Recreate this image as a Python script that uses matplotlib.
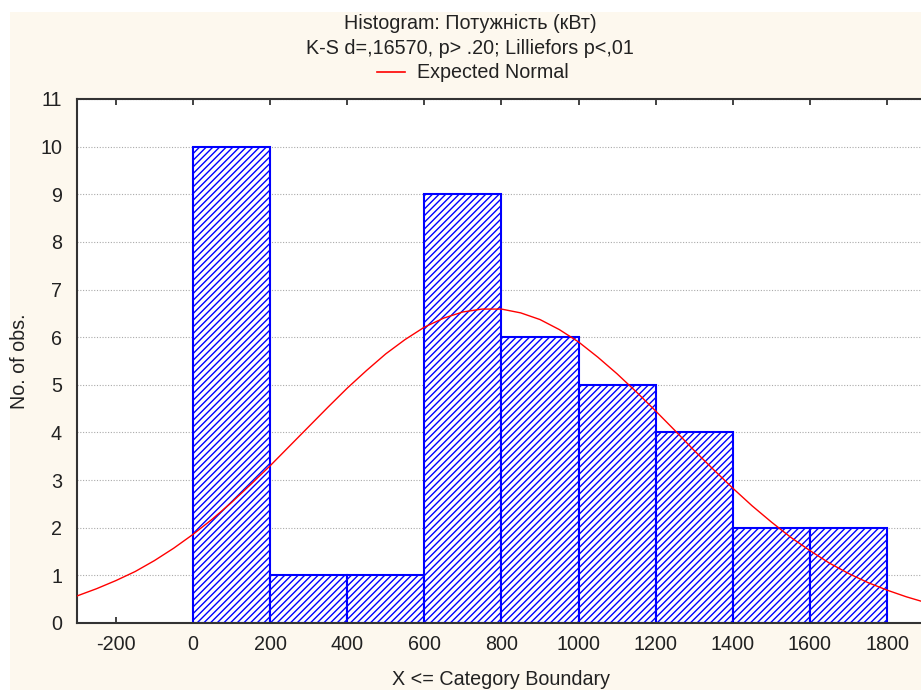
import numpy as np
import matplotlib.pyplot as plt
from matplotlib.patches import Rectangle
from matplotlib.lines import Line2D

plt.rcParams['font.family'] = ['Liberation Sans', 'DejaVu Sans']
plt.rcParams['hatch.linewidth'] = 1.0
plt.rcParams['axes.unicode_minus'] = False

# histogram data (category boundaries and counts)
bin_left = [0, 200, 400, 600, 800, 1000, 1200, 1400, 1600]
bin_width = 200
counts = [10, 1, 1, 9, 6, 5, 4, 2, 2]

# expected normal curve
curve_x = [-300, -250, -200, -150, -100, -50, 0, 50, 100, 150, 200, 250, 300,
           350, 400, 450, 500, 550, 600, 650, 700, 750, 800, 850, 900, 950,
           1000, 1050, 1100, 1150, 1200, 1250, 1300, 1350, 1400, 1450, 1500,
           1550, 1600, 1650, 1700, 1750, 1800, 1850, 1900, 1950]
curve_y = [0.57, 0.72, 0.89, 1.08, 1.31, 1.57, 1.86, 2.18, 2.53, 2.91, 3.30,
           3.71, 4.12, 4.53, 4.93, 5.30, 5.65, 5.95, 6.21, 6.40, 6.53, 6.59,
           6.59, 6.51, 6.37, 6.16, 5.90, 5.58, 5.23, 4.85, 4.45, 4.04, 3.62,
           3.22, 2.83, 2.46, 2.12, 1.80, 1.52, 1.26, 1.04, 0.85, 0.69, 0.55,
           0.43, 0.34]

x_ticks = [-200, 0, 200, 400, 600, 800, 1000, 1200, 1400, 1600, 1800]
y_ticks = list(range(0, 12))

W, H = 921, 690
fs = 14.2
fig = plt.figure(figsize=(W / 100, H / 100), dpi=100)
fig.patch.set_facecolor('white')
# ivory panel (white strip on top and left like the screenshot)
fig.patches.append(Rectangle((10 / W, 0), 1, 1 - 12 / H, transform=fig.transFigure,
                             facecolor='#FDF8EE', edgecolor='none', zorder=-10))

ax = fig.add_axes([77.3 / W, (H - 623) / H, 848.3 / W, 524 / H])
ax.set_facecolor('white')

ax.bar(bin_left, counts, width=bin_width, align='edge', facecolor='white',
       edgecolor='#0000FF', hatch='/////', linewidth=1.5, zorder=2)
ax.plot(curve_x, curve_y, color='#FF0000', linewidth=1.0, zorder=3)

ax.set_xlim(-300, 1900)
ax.set_ylim(0, 11)
ax.set_xticks(x_ticks)
ax.set_yticks(y_ticks)
ax.yaxis.grid(True, color='#AAAAAA', linestyle=(0, (1, 1.5)), linewidth=0.8, zorder=0)
ax.set_axisbelow(True)

ax.tick_params(axis='x', direction='in', length=4, width=1.2, top=True,
               labelsize=fs, pad=9, colors='#222222')
ax.tick_params(axis='y', length=0, labelsize=fs, pad=11, colors='#222222')
for s in ax.spines.values():
    s.set_linewidth(1.5)
    s.set_color('#333333')

ax.set_xlabel('X <= Category Boundary', fontsize=fs, color='#222222', labelpad=11)
ax.set_ylabel('No. of obs.', fontsize=fs, color='#222222', labelpad=8)

# titles and legend above the plot
cx = 470 / W
fig.text(cx, 1 - 23 / H, 'Histogram: Потужність (кВт)', ha='center', va='center',
         fontsize=fs, color='#222222')
fig.text(cx, 1 - 49 / H, 'K-S d=,16570, p> .20; Lilliefors p<,01', ha='center',
         va='center', fontsize=fs, color='#222222')
fig.lines.append(Line2D([377 / W, 405 / W], [1 - 72 / H, 1 - 72 / H],
                        transform=fig.transFigure, color='#FF0000', linewidth=1.2))
fig.text(417 / W, 1 - 73 / H, 'Expected Normal', ha='left', va='center',
         fontsize=fs, color='#222222')

fig.savefig('out.png', dpi=100)
